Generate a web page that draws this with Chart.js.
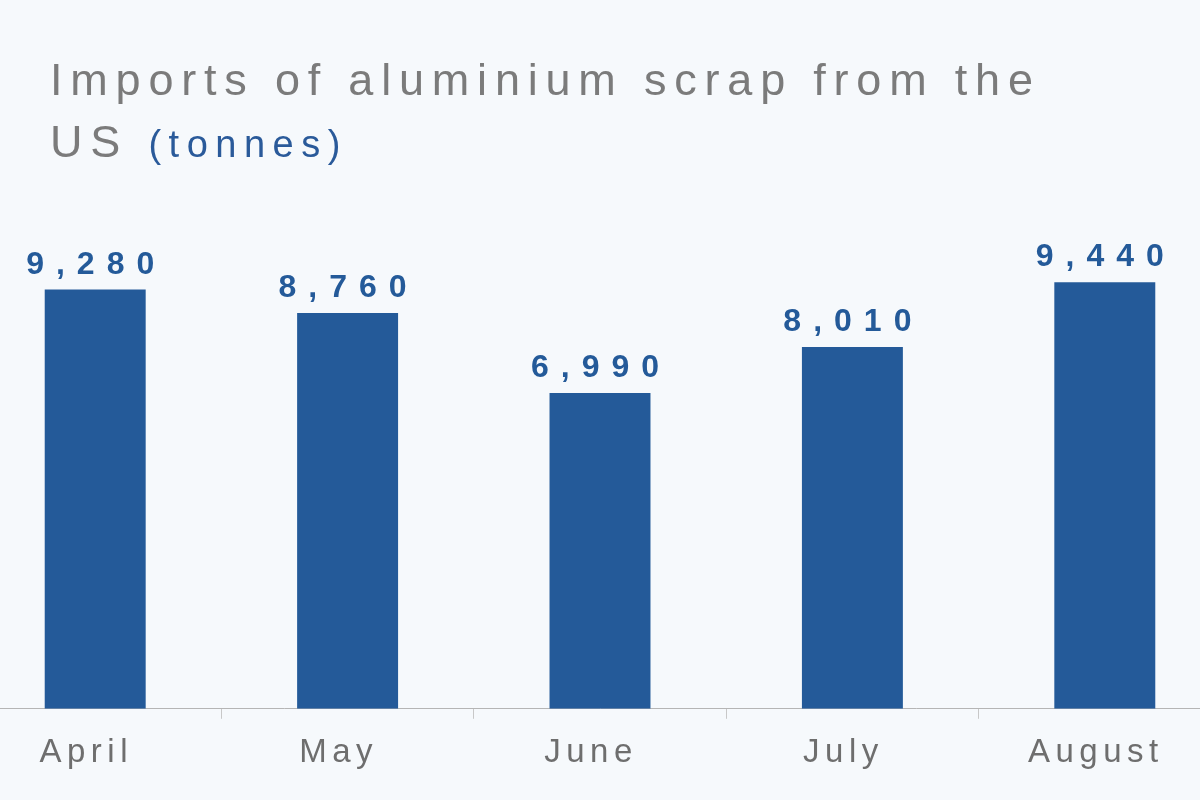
<!DOCTYPE html>
<html><head><meta charset="utf-8">
<script src="https://cdn.jsdelivr.net/npm/chart.js@4"></script>
<style>
  html, body { margin: 0; padding: 0; background: #f6f9fc; overflow: hidden; width: 1200px; height: 800px; }
  #wrap { position: absolute; left: -31px; top: 0; width: 1262px; height: 800px; }
  #title { position: absolute; left: 50px; top: 49px; font-family: "Liberation Sans", Arial, sans-serif;
           font-size: 45px; line-height: 62px; letter-spacing: 7.8px; color: #7b7b7b; z-index: 2; }
  #title .unit { color: #2a5a9a; font-size: 38px; letter-spacing: 7.5px; }
</style></head>
<body>
<div id="title">Imports of aluminium scrap from the<br>US <span class="unit">(tonnes)</span></div>
<div id="wrap"><canvas id="c" width="1262" height="800"></canvas></div>
<script>
// ── Data ────────────────────────────────────────────────────────────────────
const months = ["April", "May", "June", "July", "August"];
const tonnes = [9280, 8760, 6990, 8010, 9440];

const BAR = "#245a99";

// Draws value labels above bars and month labels under the axis, with wide tracking
const labelPlugin = {
  id: "labels",
  afterDatasetsDraw(chart) {
    const { ctx, scales: { x } } = chart;
    const meta = chart.getDatasetMeta(0);
    ctx.save();
    ctx.textAlign = "center";
    ctx.letterSpacing = "12px";
    ctx.font = "bold 32px 'Liberation Sans', Arial, sans-serif";
    ctx.fillStyle = BAR;
    meta.data.forEach((bar, i) => {
      ctx.fillText(tonnes[i].toLocaleString("en-US"), bar.x + 1, bar.y - 16);
    });
    ctx.letterSpacing = "5.5px";
    ctx.font = "33px 'Liberation Sans', Arial, sans-serif";
    ctx.fillStyle = "#6e6e6e";
    months.forEach((m, i) => {
      ctx.fillText(m, x.getPixelForValue(i) - 9, 762);
    });
    ctx.restore();
  }
};

new Chart(document.getElementById("c"), {
  type: "bar",
  data: { labels: months, datasets: [{ data: tonnes, backgroundColor: BAR, barPercentage: 0.4, categoryPercentage: 1 }] },
  options: {
    responsive: false,
    animation: false,
    layout: { padding: { top: 257, bottom: 0, left: 0, right: 0 } },
    plugins: { legend: { display: false }, tooltip: { enabled: false } },
    scales: {
      x: {
        offset: true,
        grid: { offset: true, drawOnChartArea: false, color: "#c8c8c8", tickLength: 10 },
        border: { color: "#b5b5b5" },
        ticks: { color: "rgba(0,0,0,0)", font: { size: 31 }, padding: 22 }
      },
      y: { display: false, min: 0, max: 10000 }
    }
  },
  plugins: [labelPlugin]
});
</script>
</body></html>
